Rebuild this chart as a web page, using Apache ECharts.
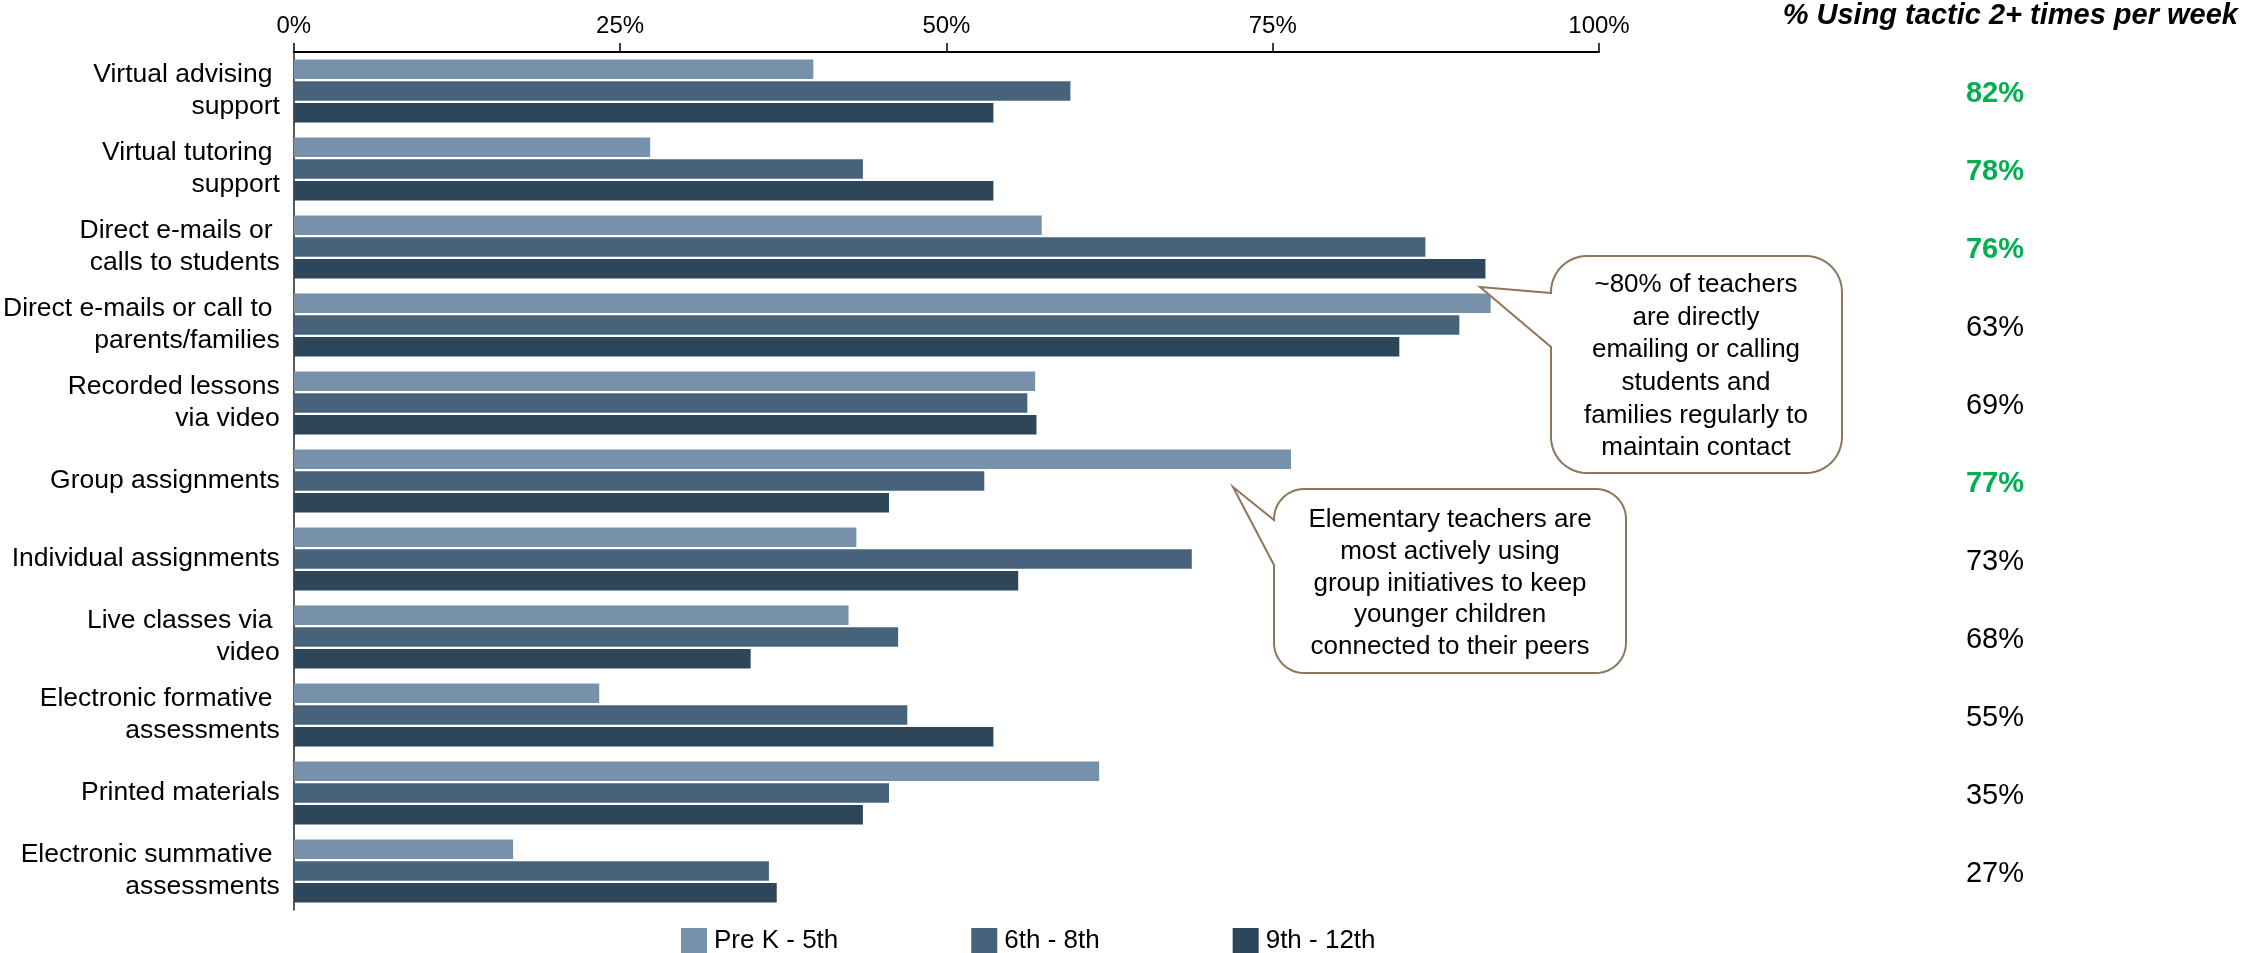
<!DOCTYPE html>
<html>
<head>
<meta charset="utf-8">
<title>Remote teaching tactics by grade level</title>
<script src="https://cdn.jsdelivr.net/npm/echarts@6/dist/echarts.min.js"></script>
<style>
  html, body { margin: 0; padding: 0; background: #ffffff; }
  #chart { width: 2243px; height: 953px; }
</style>
</head>
<body>
<div id="chart"></div>
<script>
// Tactics (top to bottom)
const categories = [
  'Virtual advising \nsupport',
  'Virtual tutoring \nsupport',
  'Direct e-mails or \ncalls to students',
  'Direct e-mails or call to \nparents/families',
  'Recorded lessons\nvia video',
  'Group assignments',
  'Individual assignments',
  'Live classes via \nvideo',
  'Electronic formative \nassessments',
  'Printed materials',
  'Electronic summative \nassessments'
];

// Share of teachers using each tactic, by grade band (%)
const preK5 = [39.8, 27.3, 57.3, 91.7, 56.8, 76.4, 43.1, 42.5, 23.4, 61.7, 16.8];
const grades6to8 = [59.5, 43.6, 86.7, 89.3, 56.2, 52.9, 68.8, 46.3, 47.0, 45.6, 36.4];
const grades9to12 = [53.6, 53.6, 91.3, 84.7, 56.9, 45.6, 55.5, 35.0, 53.6, 43.6, 37.0];

// % using the tactic 2+ times per week, and which ones are highlighted
const weeklyUse = [82, 78, 76, 63, 69, 77, 73, 68, 55, 35, 27];
const weeklyHighlight = [true, true, true, false, false, true, false, false, false, false, false];

const seriesNames = ['Pre K - 5th', '6th - 8th', '9th - 12th'];
const xTicks = [0, 25, 50, 75, 100];

const FONT = "'Liberation Sans', Arial, Helvetica, sans-serif";
const colors = ['#7891AA', '#47637B', '#2D4659'];
const calloutStroke = '#8E7757';

// Quarter-circle corner points from angle a0 to a1 (radians)
function arcPoints(cx, cy, r, a0, a1) {
  const pts = [];
  const steps = 12;
  for (let i = 0; i <= steps; i++) {
    const a = a0 + (a1 - a0) * i / steps;
    pts.push([cx + r * Math.cos(a), cy + r * Math.sin(a)]);
  }
  return pts;
}

// Rounded speech bubble outline with a pointer leaving its left edge
function bubblePoints(x1, y1, x2, y2, r, joinTop, joinBottom, tipX, tipY) {
  const P = Math.PI;
  let pts = [[x1, joinTop], [tipX, tipY], [x1, joinBottom]];
  pts = pts.concat(arcPoints(x1 + r, y2 - r, r, P, P / 2));          // bottom-left
  pts = pts.concat(arcPoints(x2 - r, y2 - r, r, P / 2, 0));          // bottom-right
  pts = pts.concat(arcPoints(x2 - r, y1 + r, r, 0, -P / 2));         // top-right
  pts = pts.concat(arcPoints(x1 + r, y1 + r, r, -P / 2, -P));        // top-left
  return pts;
}

const chart = echarts.init(document.getElementById('chart'), null, { renderer: 'canvas' });

const barSeries = [preK5, grades6to8, grades9to12].map((vals, i) => ({
  name: seriesNames[i],
  type: 'bar',
  data: vals,
  barWidth: 19.5,
  barGap: '12%',
  itemStyle: { color: colors[i] },
  emphasis: { disabled: true }
}));

chart.setOption({
  animation: false,
  textStyle: { fontFamily: FONT },
  grid: { left: 292, right: 644, top: 52, bottom: 43, containLabel: false },
  xAxis: {
    type: 'value',
    position: 'top',
    min: 0,
    max: 100,
    interval: 25,
    axisLine: { show: true, lineStyle: { color: '#000000', width: 2 } },
    axisTick: { show: true, inside: false, length: 9, lineStyle: { color: '#000000', width: 1.5 } },
    splitLine: { show: false },
    axisLabel: {
      margin: 14,
      fontSize: 24,
      color: '#000000',
      fontFamily: FONT,
      formatter: v => (xTicks.indexOf(v) >= 0 ? v + '%' : '')
    }
  },
  yAxis: [
    {
      type: 'category',
      data: categories,
      inverse: true,
      axisLine: { show: true, lineStyle: { color: '#222222', width: 1.5 } },
      axisTick: { show: false },
      axisLabel: {
        margin: 14,
        fontSize: 26.5,
        lineHeight: 32,
        color: '#000000',
        fontFamily: FONT,
        align: 'right'
      }
    },
    {
      type: 'category',
      data: categories,
      inverse: true,
      position: 'right',
      axisLine: { show: false },
      axisTick: { show: false },
      axisLabel: {
        margin: 396,
        align: 'center',
        padding: [5, 0, 0, 0],
        formatter: (val, idx) => {
          const tag = weeklyHighlight[idx] ? 'g' : 'n';
          return '{' + tag + '|' + weeklyUse[idx] + '%}';
        },
        rich: {
          g: { fontSize: 29, fontWeight: 'bold', color: '#00B050', fontFamily: FONT },
          n: { fontSize: 29, color: '#000000', fontFamily: FONT }
        }
      }
    }
  ],
  legend: {
    data: seriesNames,
    left: 676,
    top: 923,
    itemWidth: 26,
    itemHeight: 26,
    itemGap: 133,
    icon: 'rect',
    selectedMode: false,
    textStyle: { fontSize: 26, color: '#000000', fontFamily: FONT, padding: [0, 0, 0, 2] }
  },
  series: barSeries,
  graphic: [
    {
      type: 'text',
      x: 2238,
      y: 16,
      style: {
        text: '% Using tactic 2+ times per week',
        font: "italic bold 29px " + FONT,
        fill: '#000000',
        align: 'right',
        verticalAlign: 'middle'
      }
    },
    {
      type: 'polygon',
      z: 100,
      shape: { points: bubblePoints(1551, 256, 1842, 473, 36, 293, 347, 1480, 287) },
      style: { fill: '#ffffff', stroke: calloutStroke, lineWidth: 2 }
    },
    {
      type: 'text',
      z: 101,
      x: 1696,
      y: 366.5,
      style: {
        text: '~80% of teachers\nare directly\nemailing or calling\nstudents and\nfamilies regularly to\nmaintain contact',
        fontSize: 26,
        fontFamily: FONT,
        lineHeight: 32.6,
        fill: '#000000',
        align: 'center',
        verticalAlign: 'middle'
      }
    },
    {
      type: 'polygon',
      z: 100,
      shape: { points: bubblePoints(1274, 489, 1626, 673, 30, 520, 565, 1233, 487) },
      style: { fill: '#ffffff', stroke: calloutStroke, lineWidth: 2 }
    },
    {
      type: 'text',
      z: 101,
      x: 1450,
      y: 583.5,
      style: {
        text: 'Elementary teachers are\nmost actively using\ngroup initiatives to keep\nyounger children\nconnected to their peers',
        fontSize: 26,
        fontFamily: FONT,
        lineHeight: 31.8,
        fill: '#000000',
        align: 'center',
        verticalAlign: 'middle'
      }
    }
  ]
});
</script>
</body>
</html>
